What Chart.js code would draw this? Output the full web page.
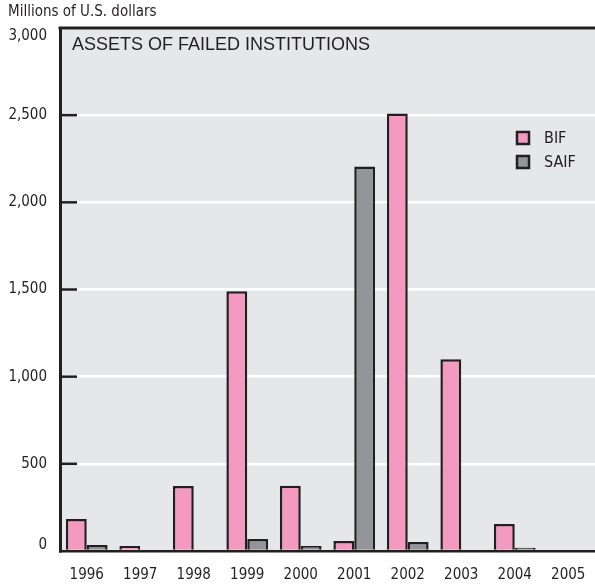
<!DOCTYPE html>
<html>
<head>
<meta charset="utf-8">
<script src="https://cdn.jsdelivr.net/npm/chart.js@4/dist/chart.umd.min.js"></script>
<style>
  html, body { margin: 0; padding: 0; background: #ffffff; }
  #wrap { width: 595px; height: 584px; position: relative; }
</style>
</head>
<body>
<div id="wrap"><canvas id="c"></canvas></div>
<script>
var years = ['1996','1997','1998','1999','2000','2001','2002','2003','2004','2005'];
var bifValues = [183, 28, 373, 1490, 375, 57, 2510, 1100, 155, 0];
var saifValues = [34, 0, 0, 69, 29, 2205, 52, 0, 18, 0];
var yTicks = [0, 500, 1000, 1500, 2000, 2500, 3000];

var FONT = "'Liberation Sans Narrow', 'DejaVu Sans Condensed', 'Liberation Sans', sans-serif";
var INK = '#231f20';

function fmt(v){ return Number(v).toLocaleString('en-US'); }

// plot background, top rule, inward ticks, end labels, titles, legend
var decor = {
  id: 'decor',
  beforeDraw: function(chart){
    var a = chart.chartArea, ctx = chart.ctx;
    ctx.save();
    ctx.fillStyle = '#e6e7e8';
    ctx.fillRect(a.left, a.top, a.right - a.left, a.bottom - a.top);
    ctx.restore();
  },
  afterDraw: function(chart){
    var a = chart.chartArea, ctx = chart.ctx, y = chart.scales.y;
    ctx.save();
    ctx.strokeStyle = INK;
    ctx.lineWidth = 3;
    ctx.beginPath();
    ctx.moveTo(a.left - 1.5, a.top);
    ctx.lineTo(a.right, a.top);
    ctx.stroke();
    ctx.lineWidth = 2.5;
    yTicks.forEach(function(v){
      if(v === 0 || v === 3000){ return; }
      var py = y.getPixelForValue(v);
      ctx.beginPath();
      ctx.moveTo(a.left, py);
      ctx.lineTo(a.left + 17, py);
      ctx.stroke();
    });

    ctx.fillStyle = INK;
    ctx.textBaseline = 'middle';
    // first and last tick labels sit a little inside the frame
    ctx.textAlign = 'right';
    ctx.font = '15px ' + FONT;
    ctx.fillText(fmt(3000), a.left - 13, y.getPixelForValue(3000) + 8);
    ctx.fillText(fmt(0), a.left - 13, y.getPixelForValue(0) - 6);

    ctx.textAlign = 'left';
    ctx.fillText('Millions of U.S. dollars', 8, 12);
    ctx.font = "18px 'Liberation Sans', sans-serif";
    ctx.fillText('ASSETS OF FAILED INSTITUTIONS', 72, 45);

    // legend
    var items = chart.data.datasets;
    ctx.font = '16px ' + FONT;
    items.forEach(function(ds, i){
      var cy = 138 + i * 24;
      ctx.fillStyle = ds.backgroundColor;
      ctx.fillRect(517, cy - 6, 12, 12);
      ctx.strokeStyle = INK;
      ctx.lineWidth = 2.5;
      ctx.strokeRect(517, cy - 6, 12, 12);
      ctx.fillStyle = INK;
      ctx.fillText(ds.label, 544, cy + 1);
    });
    ctx.restore();
  }
};

new Chart(document.getElementById('c'), {
  type: 'bar',
  data: {
    labels: years,
    datasets: [
      { label: 'BIF', data: bifValues, backgroundColor: '#f49ac1', borderColor: INK, borderWidth: 2.5, borderSkipped: 'start' },
      { label: 'SAIF', data: saifValues, backgroundColor: '#939598', borderColor: INK, borderWidth: 2.5, borderSkipped: 'start' }
    ]
  },
  options: {
    responsive: true,
    maintainAspectRatio: false,
    animation: false,
    devicePixelRatio: 1,
    layout: { padding: { top: 28, right: 0, left: 0, bottom: 0 } },
    datasets: { bar: { categoryPercentage: 0.78, barPercentage: 1 } },
    plugins: {
      legend: { display: false },
      title: { display: false },
      tooltip: { enabled: false }
    },
    scales: {
      x: {
        grid: { display: false },
        border: { display: true, color: INK, width: 2.5 },
        ticks: { color: INK, font: { family: FONT, size: 15 }, padding: 7, maxRotation: 0 },
        afterFit: function(s){ s.height = 33; }
      },
      y: {
        min: 0,
        max: 3000,
        afterBuildTicks: function(s){ s.ticks = yTicks.map(function(v){ return { value: v }; }); },
        grid: { color: '#ffffff', lineWidth: 2.5, drawTicks: false },
        border: { display: true, color: INK, width: 3 },
        ticks: {
          color: INK,
          padding: 13,
          font: { family: FONT, size: 15 },
          callback: function(v){ return (v === 0 || v === 3000) ? '' : fmt(v); }
        },
        afterFit: function(s){ s.width = 60; }
      }
    }
  },
  plugins: [decor]
});
</script>
</body>
</html>
